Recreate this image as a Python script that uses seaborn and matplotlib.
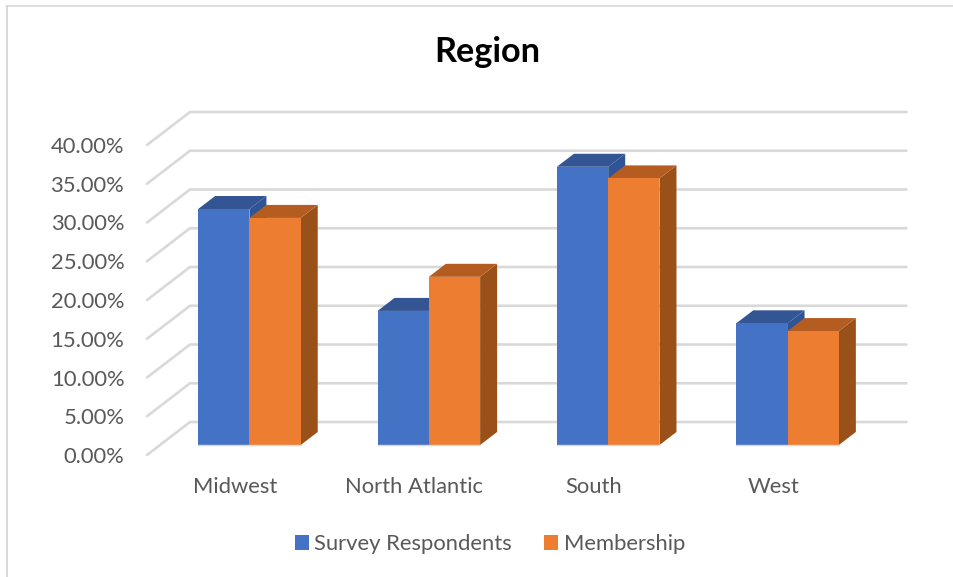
# region chart, fake 3d bars on seaborn barplot
import numpy as np
import pandas as pd
import seaborn as sns
import matplotlib
matplotlib.use("Agg")
import matplotlib.pyplot as plt
from matplotlib.lines import Line2D
from matplotlib.patches import Polygon

regions = ["Midwest", "North Atlantic", "South", "West"]
survey = [30.45, 17.3, 35.9, 15.7]
membership = [29.3, 21.7, 34.4, 14.7]
y_ticks = [0, 5, 10, 15, 20, 25, 30, 35, 40]

df = pd.DataFrame({
    "region": regions * 2,
    "share": survey + membership,
    "series": ["Survey Respondents"] * 4 + ["Membership"] * 4,
})

sns.set_theme(style="white")
plt.rcParams["font.family"] = ["Lato", "DejaVu Sans"]

W, H = 954, 577
fig = plt.figure(figsize=(W / 100, H / 100), dpi=100)
fig.patch.set_facecolor("white")

# axes bottom sits on the front floor edge, y=0 (bar base) is 10px above it
ax = fig.add_axes([159.75 / W, 1 - 455 / H, 717.5 / W, 320 / H])
ax.patch.set_alpha(0)

sns.barplot(
    data=df, x="region", y="share", hue="series",
    palette=["#4472C4", "#ED7D31"], saturation=1,
    width=0.572, gap=0, linewidth=0, edgecolor="none", ax=ax,
)
ax.set_xlabel("")
ax.set_ylabel("")
sns.despine(ax=ax, left=True, bottom=True)

# walls: px offsets turned into data units
FRONT_DY = -10 / 7.75
BACK_DY = 23 / 7.75
FRONT_X = -0.571
BACK_X = -0.3315
RIGHT_X = 3.663
for t in y_ticks:
    ax.plot([FRONT_X, BACK_X, RIGHT_X], [t + FRONT_DY, t + BACK_DY, t + BACK_DY],
            color="#D9D9D9", lw=1.9, clip_on=False, zorder=1, solid_joinstyle="miter")

# side and top faces of each bar
DEPTH_X = 17 / 179.5
DEPTH_Y = 13 / 7.75
faces = [("#2F5597", "#335593", 2.1), ("#9A5119", "#B55D20", 2.2)]
for cont, (side_col, top_col, z) in zip(ax.containers, faces):
    for bar in cont:
        bar.set_zorder(3)
        x0 = bar.get_x()
        x1 = x0 + bar.get_width()
        h = bar.get_height()
        top = [(x0, h), (x1, h), (x1 + DEPTH_X, h + DEPTH_Y), (x0 + DEPTH_X, h + DEPTH_Y)]
        side = [(x1, 0), (x1 + DEPTH_X, DEPTH_Y), (x1 + DEPTH_X, h + DEPTH_Y), (x1, h)]
        ax.add_patch(Polygon(side, closed=True, fc=side_col, ec="none", zorder=z, clip_on=False))
        ax.add_patch(Polygon(top, closed=True, fc=top_col, ec="none", zorder=z, clip_on=False))
        ax.plot([x0, x1], [0, 0], color="#D9D9D9", lw=1, zorder=3.1, clip_on=False)

ax.set_yticks(np.array(y_ticks) + FRONT_DY, [f"{t:.2f}%" for t in y_ticks])
ax.set_xticks(np.arange(len(regions)) - 0.08, regions)
# ticks push the limits, so set these last
ax.set_xlim(-0.5, 3.5)
ax.set_ylim(FRONT_DY, 40)
ax.tick_params(axis="y", length=0, pad=25.5, labelsize=15.8, labelcolor="#595959")
ax.tick_params(axis="x", length=0, pad=16, labelsize=15.8, labelcolor="#595959")

ax.legend(
    ncol=2, frameon=False, loc="center",
    bbox_to_anchor=(490 / W, 1 - 544 / H), bbox_transform=fig.transFigure,
    fontsize=15.8, labelcolor="#595959",
    handlelength=0.64, handleheight=0.64, handletextpad=0.25, columnspacing=1.47,
)

fig.text(487 / W, 1 - 52.5 / H, "Region", ha="center", va="center",
         fontsize=24.7, fontweight="bold", color="black")

# chart frame, only top and left show in the crop
fig.add_artist(Line2D([7 / W, 7 / W], [0, 1 - 6 / H], color="#D9D9D9", lw=1.4))
fig.add_artist(Line2D([6 / W, 1], [1 - 6 / H, 1 - 6 / H], color="#D9D9D9", lw=1.2))

fig.savefig("out.png", dpi=100)
plt.close(fig)
